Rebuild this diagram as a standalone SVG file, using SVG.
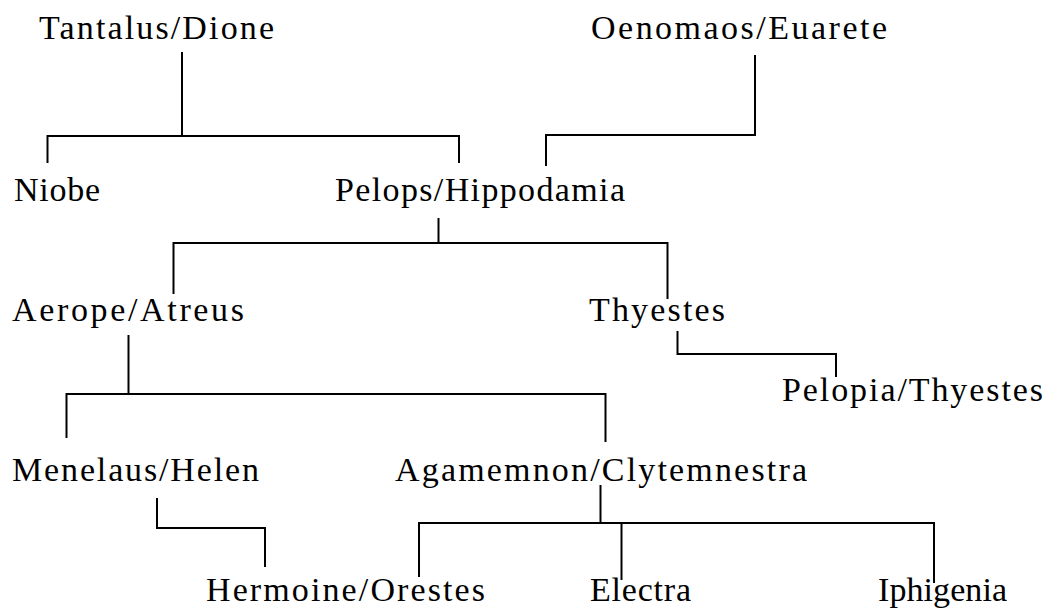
<svg xmlns="http://www.w3.org/2000/svg" width="1051" height="609" viewBox="0 0 1051 609">
<style>
.lbl{font-family:"Liberation Serif","Times New Roman",serif;font-size:34px;fill:#000;}
.ln{fill:none;stroke:#000;stroke-width:2;stroke-linejoin:miter;}
</style>
<rect width="1051" height="609" fill="#fff"/>
<g id="connectors">
<path class="ln" d="M182,52 V136"/>
<path class="ln" d="M47.5,163 V136 H459 V163"/>
<path class="ln" d="M755,55 V135 H546 V166"/>
<path class="ln" d="M438.5,218 V243"/>
<path class="ln" d="M173.5,294 V243 H667.5 V299"/>
<path class="ln" d="M677.5,331 V354 H836 V377"/>
<path class="ln" d="M128.5,335 V394"/>
<path class="ln" d="M66.5,438 V394 H605.5 V442"/>
<path class="ln" d="M157,498 V528 H265 V567"/>
<path class="ln" d="M600.5,485 V523"/>
<path class="ln" d="M419,577 V523 H934 V583"/>
<path class="ln" d="M621.5,523 V580"/>
</g>
<g id="tantalus"><text class="lbl" x="39" y="39" textLength="235" lengthAdjust="spacing">Tantalus/Dione</text></g>
<g id="oenomaos"><text class="lbl" x="591" y="39" textLength="296" lengthAdjust="spacing">Oenomaos/Euarete</text></g>
<g id="niobe"><text class="lbl" x="14" y="201" textLength="86" lengthAdjust="spacing">Niobe</text></g>
<g id="pelops"><text class="lbl" x="335" y="201" textLength="290" lengthAdjust="spacing">Pelops/Hippodamia</text></g>
<g id="aerope"><text class="lbl" x="12" y="321" textLength="232" lengthAdjust="spacing">Aerope/Atreus</text></g>
<g id="thyestes"><text class="lbl" x="589" y="321" textLength="136" lengthAdjust="spacing">Thyestes</text></g>
<g id="pelopia"><text class="lbl" x="782" y="401" textLength="261" lengthAdjust="spacing">Pelopia/Thyestes</text></g>
<g id="menelaus"><text class="lbl" x="12" y="481" textLength="247" lengthAdjust="spacing">Menelaus/Helen</text></g>
<g id="agamemnon"><text class="lbl" x="395" y="481" textLength="412" lengthAdjust="spacing">Agamemnon/Clytemnestra</text></g>
<g id="hermoine"><text class="lbl" x="206" y="601" textLength="279" lengthAdjust="spacing">Hermoine/Orestes</text></g>
<g id="electra"><text class="lbl" x="590" y="601" textLength="101" lengthAdjust="spacing">Electra</text></g>
<g id="iphigenia"><text class="lbl" x="878" y="601" textLength="129" lengthAdjust="spacing">Iphigenia</text></g>
</svg>
